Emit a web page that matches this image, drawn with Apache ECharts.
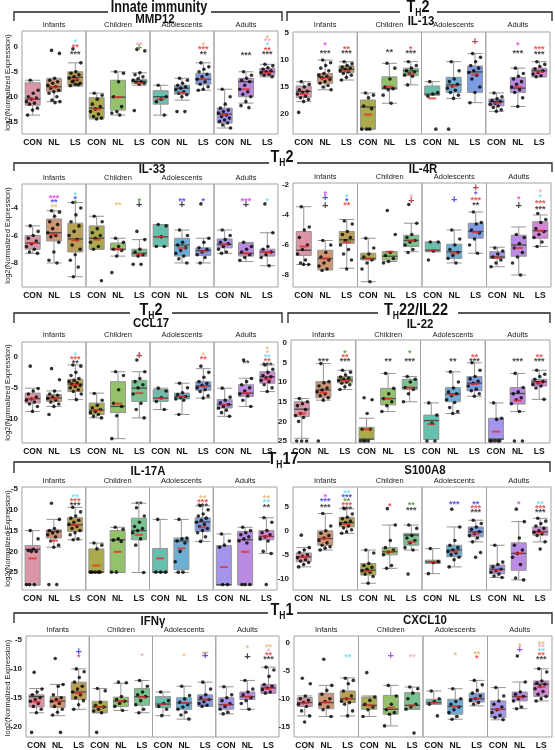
<!DOCTYPE html>
<html><head><meta charset="utf-8">
<script src="https://cdn.jsdelivr.net/npm/echarts@6/dist/echarts.min.js"></script>
<style>html,body{margin:0;padding:0;background:#fff}#c{width:555px;height:750px}</style>
</head><body><div id="c"></div>
<script>
const AGES = ['Infants','Children','Adolescents','Adults'];
const CONDS = ['CON','NL','LS'];

// ---------- MMP12 ----------
const MMP12_ticks = [0,-5,-10,-15];
const MMP12_box = [[-13.7,-11.7,-10.5,-7.2,-6.7],[-11,-9,-8,-6.5,-6.3],[-7.9,-7.7,-6.1,-5,-3.2],
 [-14.5,-14.3,-12.3,-10.2,-9.3],[-13.7,-12.7,-10.1,-6.7,-5],[-7.7,-7.3,-6.9,-6.5,-5.2],
 [-13.7,-11.5,-10,-8.8,-7.7],[-10.7,-9.5,-8.3,-7.7,-6.3],[-8.7,-7.5,-6.5,-5.3,-3.2],
 [-16.3,-15.3,-13.5,-12.3,-8.5],[-11.3,-10,-7,-6.3,-5],[-6,-5.7,-5,-4.3,-3.5]];
const MMP12_mean = [-10.5,-8.1,-6.5,-12.5,-10.1,-7.3,-10.5,-9.2,-6.5,-13.6,-8.5,-5.2];
const MMP12_pts = [
 [-6.7,-8.7,-9.3,-10,-10.3,-10.5,-11,-11.3,-11.5,-12.3,-12.7,-13.7],
 [-0.7,-1.3,-6.3,-6.7,-7,-7.3,-7.7,-8,-8.3,-8.7,-9,-9.3,-10,-10.7,-11,-11.2],
 [-0.4,-3.2,-5,-5.3,-5.6,-6,-6.3,-6.6,-7,-7.3,-7.5,-7.8,-7.6,-6.8],
 [-9.3,-9.7,-10.5,-11.5,-12,-12.5,-13,-13.5,-14,-14.3,-14.5],
 [-5,-5.3,-7,-10,-12,-13,-13.3,-13.7],
 [-0.5,-0.8,-5.2,-5.6,-6,-6.4,-6.7,-7,-7.1,-7.3,-7.5,-12.8],
 [-7.7,-10,-10.5,-11,-13.7],
 [-6.3,-6.7,-7.3,-7.7,-8,-8.3,-8.6,-9,-9.3,-9.6,-10,-13,-13],
 [-3.2,-4,-4.5,-5,-5.5,-6,-6.5,-7,-7.5,-8,-8.5,-8.7],
 [-8.5,-10,-11.5,-12.3,-12.7,-13,-13.3,-13.7,-14,-14.3,-14.7,-15,-15.3,-15.7,-16.3],
 [-5,-5.7,-6.3,-6.7,-7,-7.7,-8.5,-9,-9.5,-10,-11,-11.8,-12.2],
 [-3.5,-3.8,-4.2,-4.5,-4.8,-5,-5.2,-5.5,-5.7,-6]];
const MMP12_sig = [[2,1.4,'*','cyan'],[2,0.3,'**','red'],[2,-1,'***','black'],
 [5,0.8,'**','pink'],[5,-0.3,'+','green'],
 [8,0.8,'*','orange'],[8,0,'***','red'],[8,-1,'**','black'],
 [10,-1.2,'***','black'],
 [11,2.2,'*','orange'],[11,1.5,'**','pink'],[11,0.7,'*','cyan'],[11,-0.2,'**','red'],[11,-1.1,'***','black']];

// ---------- IL-13 ----------
const IL13_ticks = [5,10,15,20];
const IL13_box = [[14,14.8,15.8,16.9,17.7],[10,12.5,13.2,14.3,15.5],[10.3,11.1,11.7,12.3,13.7],
 [16.1,17.4,18.7,22.8,22.8],[10.6,13.1,15.2,15.4,18],[10.3,11.5,12,12.9,14.6],
 [14,14.8,16.3,16.5,16.5],[10.3,13.2,14.6,16,17.1],[8.8,11.1,12.2,16,17.9],
 [16.1,17.2,17.7,18.5,19.5],[11.5,13.2,15.2,16,18.6],[10.3,11.5,12,13.1,13.1]];
const IL13_mean = [16.3,13.4,12,20.1,14.9,12.5,17.1,14.8,12.7,18,15,12.2];
const IL13_pts = [
 [14,14.5,15,15.5,15.8,16,16.3,16.7,17,17.3,17.7,19.7],
 [10,10.5,11,11.5,12,12.5,12.8,13,13.3,13.6,14,14.3,14.7,15,15.5],
 [10.3,10.7,11,11.3,11.5,11.7,12,12.2,12.5,12.8,13.2,13.7],
 [16.1,16.5,17,18.5,19,22.8,22.8,22.8],
 [10.6,11.5,13.5,15,15.3,15.5,16.5,18],
 [10.3,11,11.5,12,12.2,12.5,12.8,13,14.6],
 [14,16,16.3,16.7,22.8],
 [10.3,12,13.5,14,14.5,14.8,15.2,15.6,16,16.5,17.1,22.8],
 [8.8,9.5,10.3,11,11.5,12,12.3,12.8,13.5,15,16,17.9],
 [16.1,16.8,17.2,17.5,17.7,18,18.2,18.5,18.8,19.2,19.5],
 [11.5,12.5,13,13.5,14,14.5,15,15.5,16,17,18.6],
 [10.3,10.8,11.2,11.6,12,12.3,12.6,12.9,13.1]];
const IL13_sig = [[1,6.8,'*','magenta'],[1,8.4,'***','black'],[2,7.6,'**','red'],[2,8.4,'***','black'],
 [4,8.2,'**','black'],[5,7.6,'*','red'],[5,8.4,'***','black'],
 [8,6.7,'+','darkred'],
 [10,6.8,'*','magenta'],[10,8.4,'***','black'],[11,7.6,'***','red'],[11,8.5,'***','black']];

// ---------- IL-33 ----------
const IL33_ticks = [-4,-6,-8];
const IL33_box = [[-7.3,-7,-6.55,-6,-5.3],[-8,-6.4,-5.8,-4.8,-4.2],[-9,-7.2,-6.25,-5.1,-3.6],
 [-7,-7,-6.2,-5.3,-4.6],[-7.5,-7.05,-7,-6.55,-6.2],[-7.5,-7.5,-7.3,-7,-6.3],
 [-6.8,-6.8,-6.1,-5.2,-5.2],[-8,-7.5,-6.7,-6.2,-5.6],[-8,-7.45,-7.1,-6.9,-6.2],
 [-7.3,-6.9,-6.65,-6.25,-5.6],[-7.9,-7.5,-7.3,-6.55,-6.5],[-8.2,-7.5,-7.2,-7,-5.8]];
const IL33_mean = [-6.55,-5.9,-6.35,-6.3,-7,-7.35,-6.1,-6.9,-7.15,-6.65,-7.3,-7.2];
const IL33_pts = [
 [-5.3,-5.7,-6,-6.2,-6.4,-6.6,-6.8,-7,-7.2,-7.3],
 [-4.2,-4.3,-4.6,-5,-5.2,-5.5,-5.8,-6,-6.1,-6.5,-7.2,-7.8,-8],
 [-3.6,-4,-4.5,-5,-5.3,-5.7,-6,-6.3,-6.7,-7,-7.4,-7.8,-8.3,-9],
 [-4.6,-5,-5.5,-5.8,-6,-6.2,-6.5,-6.8,-7,-9.3],
 [-6.2,-6.5,-6.8,-7,-7.1,-7.5,-8.7],
 [-5.7,-6.3,-7,-7.2,-7.4,-7.5,-8.1,-8.1],
 [-5.2,-5.3,-6.1,-6.8,-6.8],
 [-5.6,-6,-6.5,-6.7,-6.9,-7.1,-7.3,-7.5,-7.7,-8],
 [-3.7,-6.2,-6.5,-6.9,-7,-7.2,-7.4,-7.6,-8],
 [-5.6,-6,-6.3,-6.5,-6.6,-6.8,-7,-7.2,-7.3],
 [-6.5,-6.8,-7,-7.2,-7.4,-7.6,-7.8],
 [-3.7,-5.8,-6.8,-7,-7.2,-7.4,-7.6,-8.2]];
const IL33_sig = [[1,-3.15,'***','magenta'],[1,-3.45,'**','blue'],[1,-3.75,'**','orange'],
 [2,-2.9,'*','cyan'],[2,-3.2,'*','blue'],[2,-3.5,'*','green'],
 [4,-3.6,'**','orange'],
 [5,-3.35,'*','green'],[5,-3.8,'+','black'],
 [7,-3.35,'**','blue'],[7,-3.8,'+','black'],
 [8,-3.35,'*','blue'],
 [10,-3.35,'***','magenta'],[10,-3.8,'+','black'],
 [11,-3.35,'*','cyan']];

// ---------- IL-4R ----------
const IL4R_ticks = [-2,-4,-6,-8];
const IL4R_box = [[-7.3,-6.7,-6.35,-5.1,-3.45],[-7.65,-7.65,-6.9,-6.35,-5.7],[-7.55,-5.9,-5.65,-5.1,-4.3],
 [-8.45,-7,-6.9,-6.55,-5.55],[-7.1,-7,-6.75,-6.45,-6.45],[-6.45,-6.1,-5.7,-5.35,-4.55],
 [-6.45,-6.45,-6.35,-5.8,-5.8],[-7.2,-6.9,-6.45,-5.95,-5],[-6.55,-5.55,-5.1,-4.55,-3.8],
 [-7.45,-6.9,-6.8,-6.45,-6.15],[-8,-6.75,-6,-5.35,-4.8],[-6.1,-5.55,-5.05,-4.45,-4]];
const IL4R_mean = [-6.1,-6.9,-5.8,-6.9,-6.45,-5.7,-6.35,-6.55,-5.15,-6.85,-6.2,-5.05];
const IL4R_pts = [
 [-3.45,-4.8,-5,-5.5,-6,-6.3,-6.6,-7,-7.2,-7.3,-7.3],
 [-5.7,-6,-6.5,-6.8,-7,-7.2,-7.4,-7.6,-7.7],
 [-4.4,-4.6,-5.1,-5.3,-5.5,-5.7,-6,-6.3,-6.6,-7,-7.6],
 [-5.55,-6.2,-6.6,-6.8,-7,-7.2,-7.6,-8.45],
 [-3.7,-5.3,-6.5,-6.7,-6.9,-7.1,-7.2],
 [-3.3,-4.55,-5.3,-5.5,-5.7,-5.8,-6,-6.3,-6.5],
 [-5.8,-5.8,-6.4,-7],
 [-5,-5.6,-6,-6.3,-6.5,-6.7,-6.9,-7.2],
 [-3.8,-4.5,-4.6,-5,-5.2,-5.6,-6,-6.55],
 [-6.2,-6.4,-6.6,-6.8,-7,-7.2,-7.45],
 [-5.3,-5.5,-5.9,-6.2,-6.5,-6.8,-7.2,-8],
 [-3.9,-4.3,-4.5,-4.9,-5.1,-5.3,-5.5,-5.8,-6.1]];
const IL4R_sig = [[1,-2.45,'*','magenta'],[1,-2.85,'+','blue'],[1,-3.4,'+','black'],
 [2,-2.7,'*','cyan'],[2,-2.95,'*','blue'],[2,-3.2,'**','red'],
 [5,-2.65,'*','pink'],[5,-3.05,'+','darkred'],
 [7,-3,'+','blue'],
 [8,-2.2,'+','darkred'],[8,-2.5,'*','blue'],[8,-2.9,'***','red'],[8,-3.2,'**','black'],
 [10,-2.8,'*','magenta'],[10,-3.4,'+','black'],
 [11,-2.35,'*','pink'],[11,-2.7,'*','cyan'],[11,-3.05,'***','red'],[11,-3.45,'***','black']];

// ---------- CCL17 ----------
const CCL17_ticks = [0,-5,-10];
const CCL17_box = [[-8.8,-7.45,-6.75,-5.85,-5.05],[-8,-7.2,-6.65,-6.1,-5.5],[-6.9,-5.6,-4.4,-3.6,-1.3],
 [-9.85,-9.3,-8.6,-7.45,-5.85],[-13.2,-9,-8,-4,-2.4],[-9.85,-7.2,-5.05,-3.8,-2.4],
 [-8.5,-7.2,-6.65,-5.3,-5.05],[-9.3,-6.8,-6.4,-5.85,-4.25],[-6.65,-5.4,-4.7,-4,-1.9],
 [-9.6,-8.25,-7.7,-6.9,-5.05],[-8,-6.4,-5.85,-4.5,-3.45],[-5.6,-4.25,-3.2,-2.4,-1.3]];
const CCL17_mean = [-6.75,-6.75,-4.5,-8.6,-7.55,-5.85,-6.65,-6.4,-4.8,-7.7,-5.85,-3.6];
const CCL17_pts = [
 [-1.5,-5.1,-5.5,-6,-6.5,-6.8,-7,-7.3,-7.6,-8,-8.8],
 [-1.9,-3.7,-5.5,-6,-6.2,-6.5,-6.7,-7,-7.3,-7.6,-8,-9.3],
 [-1.3,-1.5,-2.5,-3,-3.5,-3.8,-4,-4.2,-4.4,-4.6,-4.8,-5,-5.3,-5.6,-6,-6.9],
 [-5.9,-7,-7.8,-8.2,-8.5,-8.8,-9,-9.3,-9.6,-9.85],
 [-2.4,-3,-5.3,-7.5,-8,-9.5,-13.2],
 [-0.5,-2.4,-3.5,-4,-4.5,-5,-6,-7.5,-8.5,-9.85],
 [-5.05,-5.5,-6.6,-7.2,-8.5],
 [-4.25,-5,-5.8,-6.1,-6.4,-6.6,-6.8,-7,-9.3],
 [-1.5,-2.5,-3.3,-4,-4.3,-4.6,-5,-5.3,-5.6,-6.3,-6.65],
 [-5.05,-6.5,-7,-7.4,-7.7,-8,-8.3,-8.6,-9,-9.6],
 [-0.5,-3.5,-4,-4.5,-5,-5.5,-6,-6.3,-7,-8],
 [-1.3,-2,-2.5,-3,-3.2,-3.5,-3.8,-4,-4.5,-5,-5.6]];
const CCL17_sig = [[2,0.6,'*','cyan'],[2,0,'***','red'],[2,-0.6,'**','black'],
 [5,0.7,'*','pink'],[5,0.1,'+','darkred'],
 [8,0.7,'*','orange'],[8,-0.1,'**','red'],
 [10,-0.6,'**','black'],
 [11,1.6,'*','orange'],[11,1.0,'*','pink'],[11,0.35,'**','cyan'],[11,-0.3,'**','red'],[11,-1,'***','black']];

// ---------- IL-22 ----------
const IL22_ticks = [0,5,10,15,20,25];
const IL22_box = [[14.2,15,16.9,18.8,24.3],[5.3,9.9,12,14,14.6],[7,8.6,9.5,10.2,11.9],
 [19.2,21.5,24.5,24.6,24.6],[7.8,11.6,14.2,15.8,17.5],[8.6,9.3,11.4,11.9,15],
 [15.3,18.4,19.8,24.6,24.6],[7.4,11.4,13,15,18],[5.1,8.6,10.3,12.2,13.6],
 [15.3,19.2,24.5,24.6,24.6],[7.8,11.4,12.9,15.6,17.5],[7,9.3,9.9,11,14.4]];
const IL22_mean = [18,12.7,9.7,22,14.2,11.4,20.7,13.3,10.5,22.6,14.7,10.2];
const IL22_pts = [
 [14.2,15,15.5,16,17,18,18.5,19,20,25,25,25],
 [5.3,9.9,10.2,11,11.5,12,12.5,13,13.5,14,14.6,25],
 [7,7.5,8.2,8.7,9,9.3,9.6,10,10.3,10.7,11.2,11.9],
 [14,14.5,18,22,22,25,25,25,25],
 [7.8,11.6,13,14.2,15,16,17.5],
 [8.6,9.3,10,11.4,11.9,13,15],
 [15.3,18.4,20.5,25,25],
 [7.4,10,11.5,12.5,13,13.5,14.5,15.2,16.5,17.5,18],
 [5.1,7,8.6,9.2,9.8,10.3,11,11.8,12.2,13,13.6],
 [15.3,19.2,19.5,25,25,25,25,25],
 [7.8,11.4,12.5,13,14,14.5,15.5,17.5,25,25],
 [7,8,8.6,9.3,9.9,10.2,10.6,11,11.5,14.4]];
const IL22_sig = [[1,4.2,'***','black'],[2,2,'*','green'],[2,3,'**','red'],[2,4.2,'***','black'],
 [4,4.2,'**','black'],[5,2,'*','green'],[5,4.2,'***','black'],
 [7,4.2,'**','black'],[8,3,'**','red'],[8,4.2,'***','black'],
 [10,4.2,'***','black'],[11,3,'**','red'],[11,4.2,'***','black']];

// ---------- IL-17A ----------
const IL17A_ticks = [-5,-10,-15,-20,-25];
const IL17A_box = [[-28.1,-28.1,-19.5,-18.6,-15],[-19,-16.8,-15.2,-14.8,-12.3],[-17.2,-15.2,-13.6,-11.9,-9.4],
 [-25.1,-25.1,-25,-19.4,-18],[-25.1,-25.1,-17.2,-15,-14.2],[-25.1,-17.2,-15,-12,-8.4],
 [-25.1,-25.1,-25,-19.3,-12.3],[-25.1,-24.4,-17.5,-16.8,-12.3],[-17.6,-15.2,-12.9,-11.9,-9],
 [-28.1,-28.1,-28,-18.6,-15.8],[-28.1,-28.1,-17.2,-15.2,-14.2],[-20.5,-17.2,-16.4,-15,-11.9]];
const IL17A_mean = [-21.7,-17.4,-13.7,-23.4,-20.1,-16,-21.7,-19.3,-14.2,-23.8,-20.1,-16.4];
const IL17A_pts = [
 [-15,-17,-19.5,-19.8,-20,-20,-28,-28,-28],
 [-8.4,-12.3,-14.5,-15,-15.3,-15.6,-16,-16.5,-17.5,-18.5,-19,-28,-28],
 [-9.4,-10.5,-11.5,-12,-12.5,-13,-13.5,-14,-14.5,-15,-15.5,-16,-17,-17.2],
 [-18,-18.5,-19.4,-25,-25,-25,-25,-25],
 [-14.2,-14.7,-17,-17.3,-17.6,-25,-25],
 [-9.5,-11.5,-13,-14,-14.5,-15,-15.5,-17,-18.5,-25.1],
 [-12.3,-25,-25,-25],
 [-12.3,-16.8,-17,-17.5,-18,-20,-22.5,-25,-25],
 [-9,-10,-11,-11.5,-12,-12.5,-13,-13.5,-14,-14.5,-15,-15.5,-16.5,-17.6],
 [-15.8,-17.5,-18.5,-19,-28,-28],
 [-14.2,-15,-15.5,-16,-16.5,-17,-17.5,-18,-28,-28,-28],
 [-11.9,-13,-15,-15.5,-16,-16.5,-17,-17.5,-20,-20.5,-28]];
const IL17A_sig = [[2,-6.4,'**','cyan'],[2,-7.4,'***','red'],[2,-8.4,'***','black'],
 [5,-8.2,'**','black'],
 [8,-6.6,'**','orange'],[8,-7.6,'***','red'],[8,-8.6,'***','black'],
 [11,-6.6,'**','orange'],[11,-7.6,'**','cyan'],[11,-8.8,'**','black']];

// ---------- S100A8 ----------
const S100A8_ticks = [5,0,-5,-10];
const S100A8_box = [[-7.5,-6.4,-5.4,-4.6,-3.5],[-4,-3,-1.6,0,3.6],[-0.55,0.8,1.7,2.8,4.6],
 [-10.9,-9.2,-8.2,-6.8,-4],[-7.8,-5,-4.35,-3.5,1.2],[-4,-3,-0.9,-0.55,1.2],
 [-8.9,-6.8,-6.45,-6.1,-3.7],[-7.5,-5.4,-4,-3,0.8],[-2.3,-1.25,-0.2,0.8,2.2],
 [-9.7,-8.9,-8,-7.1,-3],[-10.2,-8.2,-4.7,-2.5,1.9],[-2.3,-0.9,-0.2,0.8,2.6]];
const S100A8_mean = [-5.4,-1.6,1.4,-8.4,-4.35,-2.3,-6.45,-4.35,-0.55,-8.2,-4.7,-0.4];
const S100A8_pts = [
 [-0.9,-3.5,-4,-4.5,-5,-5.3,-5.6,-6,-6.3,-6.6,-7,-7.5],
 [3.6,1,0,-0.5,-1,-1.5,-2,-2.5,-3,-3.3,-3.6,-4],
 [4.6,3.5,2.8,2.5,2,1.7,1.4,1,0.6,0.2,-0.2,-0.5],
 [-4,-4.6,-6.8,-7.2,-7.6,-8,-8.3,-8.6,-9,-9.5,-10.9],
 [4.6,1.2,-2,-3.5,-4,-4.4,-5,-7.2,-7.8],
 [1.2,0.5,-1,-1.5,-2,-2.5,-3.5,-4,-9],
 [-3.7,-6.4,-6.6,-8.9],
 [4.5,0.8,-2,-3,-3.5,-4,-4.3,-4.6,-5,-5.5,-6,-7.5],
 [2.2,1.5,0.8,0.3,-0.2,-0.6,-1,-1.5,-2.3,-4.5,-5.5],
 [-3,-6.5,-7,-7.5,-8,-8.3,-8.6,-9,-9.4,-9.7],
 [4.5,1.9,-1.5,-3,-4,-4.7,-5.5,-7,-9.8,-10.2],
 [2.6,2,1.5,1,0.5,0,-0.3,-0.6,-1,-2.3,-3.8]];
const S100A8_sig = [[1,7.4,'*','magenta'],[1,6.6,'***','blue'],[1,5.3,'***','black'],
 [2,8.2,'**','cyan'],[2,7.4,'***','blue'],[2,6.6,'**','green'],[2,5.8,'***','red'],[2,5,'***','black'],
 [4,5.6,'*','red'],
 [5,5.7,'**','green'],[5,4.8,'***','black'],
 [7,6,'***','blue'],
 [8,6,'**','blue'],[8,5.1,'***','red'],[8,4.3,'***','black'],
 [10,6,'*','magenta'],
 [11,6,'**','cyan'],[11,5.1,'***','red'],[11,4.3,'***','black']];

// ---------- IFNγ ----------
const IFNG_ticks = [-5,-10,-15,-20];
const IFNG_box = [[-17.6,-16.6,-14.8,-14.5,-13.4],[-18.1,-16.7,-15.6,-14.8,-12.7],[-17,-15.3,-14,-12.3,-10],
 [-17.6,-17.6,-16.6,-15.6,-13.4],[-17.2,-16.5,-15.6,-14.9,-12.5],[-17.6,-16.3,-14.8,-13.4,-12],
 [-18.1,-16.7,-16.1,-14.8,-14],[-18.7,-17,-15.9,-15,-13],[-16.5,-16.5,-15.3,-14.5,-12.3],
 [-17.8,-17,-16.2,-15,-13.1],[-17,-15.3,-14.8,-14,-12],[-14.2,-14.2,-13.3,-12.7,-9.7]];
const IFNG_mean = [-15.7,-15.6,-14.2,-16.6,-15.6,-14.9,-16.1,-15.9,-15.3,-16.2,-14.8,-13.4];
const IFNG_pts = [
 [-10.6,-13.5,-14,-14.5,-15,-15.3,-15.6,-16,-16.5,-17,-17.6,-21],
 [-8.2,-12.7,-13,-14.5,-15,-15.3,-15.6,-16,-16.5,-17,-17.5,-18,-21],
 [-10,-10.5,-11.5,-12.3,-13,-13.5,-14,-14.5,-15,-15.5,-16.2,-17],
 [-13.4,-13.8,-15.8,-16.3,-16.6,-17,-17.3,-17.6,-21],
 [-12.3,-12.4,-14.8,-15.3,-15.6,-16,-16.5,-17.2],
 [-12,-13,-14,-14.5,-14.8,-15.5,-16.2,-17,-17.6],
 [-14,-15.5,-16,-16.5,-17,-18.1],
 [-13,-14.6,-15.2,-15.8,-16.2,-16.6,-17,-17.5,-18,-18.7],
 [-12.3,-13.5,-14.5,-15,-15.3,-15.7,-16,-16.3,-16.5],
 [-13.1,-14.5,-15,-15.5,-16,-16.5,-17,-17.5,-17.8],
 [-12,-13.5,-14,-14.5,-15,-15.5,-16,-17],
 [-9.7,-10.2,-11.3,-12.7,-13,-13.3,-13.6,-14,-14.2]];
const IFNG_sig = [[2,-7.1,'+','blue'],[2,-7.6,'*','red'],
 [5,-7.5,'*','pink'],
 [7,-7.5,'*','orange'],
 [8,-7,'**','orange'],[8,-7.8,'+','blue'],
 [10,-6.1,'*','orange'],[10,-7.9,'+','black'],
 [11,-5.8,'**','orange'],[11,-6.5,'*','pink'],[11,-7.2,'**','red'],[11,-8,'***','black']];

// ---------- CXCL10 ----------
const CXCL10_ticks = [0,-5,-10,-15];
const CXCL10_box = [[-13.1,-11.4,-10.7,-9.8,-9.5],[-13.2,-11.8,-10.7,-9,-7.6],[-13.1,-10.7,-10,-8.6,-6.25],
 [-13.2,-11.9,-11.2,-9.7,-9.5],[-14.9,-12.8,-11.9,-9.4,-7.6],[-11.9,-11.9,-11.2,-8.9,-7.9],
 [-11,-11,-10.7,-10.1,-8.6],[-13.7,-12.8,-11.4,-10.1,-8.2],[-11.3,-10.6,-10,-9,-6.7],
 [-13.8,-13.4,-11.9,-10.4,-8],[-11.8,-10.4,-9.6,-8.8,-7],[-10.4,-9.6,-7.4,-6.8,-4.6]];
const CXCL10_mean = [-10.8,-10.6,-10,-11.2,-11.6,-11.2,-10.7,-11.4,-10,-11.9,-9.8,-7.9];
const CXCL10_pts = [
 [-6.3,-7.3,-9.5,-10,-10.3,-10.7,-11,-11.4,-12.2,-13.1,-14.2],
 [-2.9,-7.6,-8.5,-9.2,-10,-10.5,-11,-11.5,-12,-13.2],
 [-6.3,-6.7,-7.3,-8.6,-9.5,-10,-10.4,-10.7,-11,-12.2,-13.1],
 [-5.3,-9.7,-10.3,-11,-11.5,-12,-13.2],
 [-7.6,-9.5,-11,-12,-12.5,-12.8,-14.9],
 [-7.9,-8.2,-9,-10,-11,-11.5,-11.9,-16.2],
 [-8.6,-10,-10.5,-11,-13.1],
 [-8.2,-10,-10.5,-11,-11.5,-12,-12.5,-13.2,-13.7],
 [-6.7,-7.5,-8.5,-9,-9.5,-10,-10.3,-10.7,-11],
 [-8,-9.5,-10.4,-11,-11.5,-12,-12.5,-13,-13.4,-13.8],
 [-2.3,-7,-8.8,-9.2,-9.6,-10,-10.4,-11.5,-11.8],
 [-4.6,-5.2,-6.8,-7.2,-7.4,-7.8,-8.2,-8.7,-9.2,-9.6,-10,-10.4]];
const CXCL10_sig = [[2,-2.1,'**','cyan'],[4,-2.3,'+','purple'],[5,-2.1,'**','pink'],
 [7,-1.7,'*','orange'],[8,-1.5,'**','orange'],[8,-2.3,'*','red'],
 [10,-0.1,'*','orange'],[10,-1.2,'+','purple'],
 [11,0.3,'**','orange'],[11,-0.3,'**','pink'],[11,-1.1,'**','cyan'],[11,-1.8,'**','red'],[11,-2.5,'***','black']];

// ---------- styles / layout ----------
const SIGCOL = {cyan:'#5fd9ea', red:'#e2302c', pink:'#f0a5ba', orange:'#e4b466', green:'#4a8a2a',
  blue:'#2b2be8', magenta:'#dc2ee8', purple:'#8a2ee8', black:'#141414', darkred:'#9a1b1b'};
const FILLS = [['#da95a7','#cc9776','#b8a156'],['#aaac4c','#93c26b','#78c38f'],
               ['#69bfad','#6caed5','#7e9ce2'],['#a494eb','#b98be3','#d387d4']];
const FONT = "'Liberation Sans', Arial, sans-serif";

const PANELS = [
 {title:'MMP12', d:[MMP12_box,MMP12_mean,MMP12_pts,MMP12_sig,MMP12_ticks], min:-17.5, max:3.2, inv:false, x0:22, x1:278, top:31, bottom:134, tx:155, ty:19, ay:29},
 {title:'IL-13', d:[IL13_box,IL13_mean,IL13_pts,IL13_sig,IL13_ticks], min:4.8, max:23.7, inv:true, x0:293, x1:550, top:32, bottom:134, tx:421, ty:21, ay:29},
 {title:'IL-33', d:[IL33_box,IL33_mean,IL33_pts,IL33_sig,IL33_ticks], min:-9.75, max:-2.25, inv:false, x0:22, x1:278, top:184, bottom:287, tx:152, ty:169, ay:182},
 {title:'IL-4R', d:[IL4R_box,IL4R_mean,IL4R_pts,IL4R_sig,IL4R_ticks], min:-8.8, max:-1.87, inv:false, x0:293, x1:551, top:183, bottom:287, tx:423, ty:169, ay:181},
 {title:'CCL17', d:[CCL17_box,CCL17_mean,CCL17_pts,CCL17_sig,CCL17_ticks], min:-13.9, max:2.4, inv:false, x0:22, x1:278, top:342, bottom:443, tx:151, ty:323, ay:339},
 {title:'IL-22', d:[IL22_box,IL22_mean,IL22_pts,IL22_sig,IL22_ticks], min:-0.7, max:25.5, inv:true, x0:291, x1:550, top:340, bottom:443, tx:420, ty:324, ay:339},
 {title:'IL-17A', d:[IL17A_box,IL17A_mean,IL17A_pts,IL17A_sig,IL17A_ticks], min:-29.3, max:-4.5, inv:false, x0:22, x1:277, top:487, bottom:590, tx:148, ty:471, ay:485},
 {title:'S100A8', d:[S100A8_box,S100A8_mean,S100A8_pts,S100A8_sig,S100A8_ticks], min:-12.3, max:9.1, inv:false, x0:293, x1:551, top:487, bottom:590, tx:425, ty:470, ay:485},
 {title:'IFNγ', d:[IFNG_box,IFNG_mean,IFNG_pts,IFNG_sig,IFNG_ticks], min:-21.8, max:-4.3, inv:false, x0:26, x1:279, top:636, bottom:740, tx:153, ty:621, ay:634},
 {title:'CXCL10', d:[CXCL10_box,CXCL10_mean,CXCL10_pts,CXCL10_sig,CXCL10_ticks], min:-16.9, max:1.3, inv:false, x0:294, x1:552, top:636, bottom:738, tx:425, ty:620, ay:634}
];

const grids=[], xAxes=[], yAxes=[], series=[], graphics=[];
function jitter(j){ return (((j*0.618034)+0.31)%1 - 0.5)*0.6; }

PANELS.forEach((P, p) => {
  const [box, mean, pts, sig, ticks] = P.d;
  const w = (P.x1 - P.x0)/4;
  for (let a=0; a<4; a++) {
    const gi = grids.length;
    grids.push({left:P.x0 + a*w, top:P.top, width:w, height:P.bottom-P.top, show:true,
      borderColor:'#a3a3a3', borderWidth:1, backgroundColor:'transparent'});
    xAxes.push({type:'category', gridIndex:gi, data:CONDS, axisLine:{show:false}, axisTick:{show:false},
      axisLabel:{interval:0, fontSize:8.5, fontWeight:'bold', color:'#111', margin:4, fontFamily:FONT}});
    xAxes.push({type:'value', gridIndex:gi, min:-0.5, max:2.5, show:false});
    yAxes.push({type:'value', gridIndex:gi, min:P.min, max:P.max, inverse:P.inv, splitLine:{show:false},
      axisLine:{show:false}, axisTick:{show:false},
      axisLabel:{show:a===0, customValues:ticks, fontSize:8, fontWeight:'bold', color:'#222', margin:4, fontFamily:FONT}});
    const xc = 2*gi, xv = 2*gi+1;
    const boxData=[], medData=[], meanData=[], ptData=[], sigData=[];
    for (let c=0; c<3; c++) {
      const g = a*3+c;
      boxData.push({value:box[g], itemStyle:{color:FILLS[a][c]}});
      medData.push([c, box[g][2]]);
      meanData.push([c, mean[g]]);
      pts[g].forEach((v,j)=>ptData.push([c + jitter(j), v]));
    }
    sig.filter(s => Math.floor(s[0]/3)===a).forEach(s => {
      const plus = s[2]==='+';
      sigData.push({value:[s[0]%3, s[1]], label:{formatter:s[2], color:SIGCOL[s[3]],
        fontSize: plus?11:9, offset:[0, plus?0:2.5]}});
    });
    series.push({type:'boxplot', xAxisIndex:xc, yAxisIndex:gi, data:boxData, boxWidth:[15,15],
      itemStyle:{borderColor:'#959595', borderWidth:1}, silent:true, z:2});
    series.push({type:'scatter', xAxisIndex:xv, yAxisIndex:gi, data:medData, symbol:'rect',
      symbolSize:[15,1.3], itemStyle:{color:'#3a3a3a'}, silent:true, z:3});
    series.push({type:'scatter', xAxisIndex:xv, yAxisIndex:gi, data:ptData, symbol:'circle',
      symbolSize:3.6, itemStyle:{color:'#000'}, silent:true, z:4});
    series.push({type:'scatter', xAxisIndex:xv, yAxisIndex:gi, data:meanData, symbol:'rect',
      symbolSize:[8,2], itemStyle:{color:'#e2302c'}, silent:true, z:5});
    series.push({type:'scatter', xAxisIndex:xv, yAxisIndex:gi, data:sigData, symbolSize:1,
      itemStyle:{color:'transparent'}, silent:true, z:6,
      label:{show:true, position:'inside', fontWeight:'bold', fontFamily:FONT}});
    graphics.push({type:'text', x:P.x0 + a*w + w/2, y:P.ay, silent:true,
      style:{text:AGES[a], fontSize:7.5, fill:'#222', fontFamily:FONT, align:'center', verticalAlign:'bottom'}});
  }
  graphics.push({type:'text', x:P.tx, y:P.ty, scaleX:0.88, silent:true,
    style:{text:P.title, fontSize:13, fontWeight:'bold', fill:'#111', fontFamily:FONT, align:'center', verticalAlign:'middle'}});
  if (P.x0 < 100) {
    graphics.push({type:'text', x:8, y:(P.top+P.bottom)/2, rotation:Math.PI/2, silent:true,
      style:{text:'log2(Normalized Expression)', fontSize:7.5, fill:'#222', fontFamily:FONT, align:'center', verticalAlign:'middle'}});
  }
});

// section headers and brackets
function line(pts){ graphics.push({type:'polyline', silent:true, shape:{points:pts}, style:{stroke:'#222', lineWidth:1.3, fill:null}}); }
function head(x, y, rich, sx){ graphics.push({type:'text', x:x, y:y, scaleX:sx||0.85, silent:true,
  style:{text:rich, fontFamily:FONT, align:'center', verticalAlign:'middle', fill:'#111',
   rich:{a:{fontSize:17, fontWeight:'bold', lineHeight:22, fontFamily:FONT, fill:'#111'},
         b:{fontSize:10, fontWeight:'bold', lineHeight:22, verticalAlign:'bottom', fontFamily:FONT, fill:'#111'}}}}); }

// row 1
line([[14,21],[14,12],[108,12]]); line([[211,12],[282,12],[282,21]]);
head(159, 7, '{a|Innate immunity}', 0.74);
line([[287,21],[287,12],[400,12]]); line([[437,12],[552,12],[552,21]]);
head(418, 7, '{a|T}{b|H}{a|2}');
// row 2
line([[14,171],[14,163],[269,163]]); line([[297,163],[552,163],[552,172]]);
head(282, 157, '{a|T}{b|H}{a|2}');
// row 3
line([[14,323],[14,313],[130,313]]); line([[172,313],[282,313],[282,323]]);
head(151, 310, '{a|T}{b|H}{a|2}');
line([[288,323],[288,313],[378,313]]); line([[458,313],[550,313],[550,323]]);
head(416, 310, '{a|T}{b|H}{a|22/IL22}');
// row 4
line([[14,473],[14,462],[270,462]]); line([[297,462],[550,462],[550,472]]);
head(283, 459, '{a|T}{b|H}{a|17}');
// row 5
line([[14,623],[14,613],[268,613]]); line([[297,613],[552,613],[552,624]]);
head(282, 610, '{a|T}{b|H}{a|1}');

const chart = echarts.init(document.getElementById('c'), null, {renderer:'canvas'});
chart.setOption({animation:false, backgroundColor:'#fff', grid:grids, xAxis:xAxes, yAxis:yAxes, series:series, graphic:graphics});
</script></body></html>
